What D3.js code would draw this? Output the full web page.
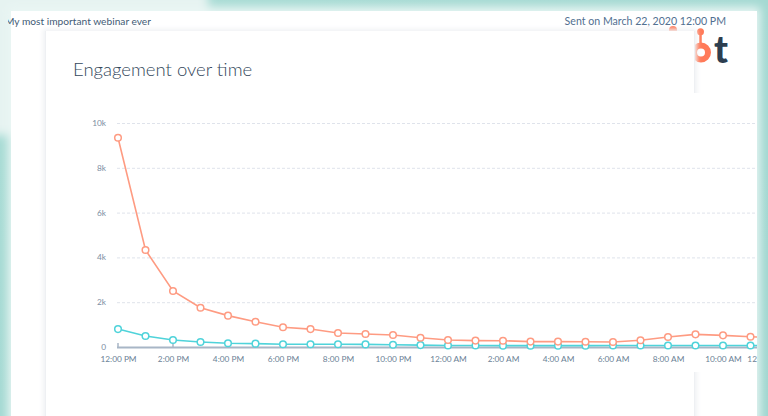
<!DOCTYPE html>
<html><head><meta charset="utf-8">
<script src="https://cdn.jsdelivr.net/npm/d3@7"></script>
<style>html,body{margin:0;padding:0;overflow:hidden;background:#fff}svg{display:block}</style>
</head><body>
<svg id="c" width="768" height="416"></svg>
<script>
// ---- data ----
const hours = ["2020-03-22T12:00","2020-03-22T13:00","2020-03-22T14:00","2020-03-22T15:00","2020-03-22T16:00","2020-03-22T17:00","2020-03-22T18:00","2020-03-22T19:00","2020-03-22T20:00","2020-03-22T21:00","2020-03-22T22:00","2020-03-22T23:00","2020-03-23T00:00","2020-03-23T01:00","2020-03-23T02:00","2020-03-23T03:00","2020-03-23T04:00","2020-03-23T05:00","2020-03-23T06:00","2020-03-23T07:00","2020-03-23T08:00","2020-03-23T09:00","2020-03-23T10:00","2020-03-23T11:00","2020-03-23T12:00"];
const seriesA = [9340,4330,2500,1750,1400,1130,880,800,625,580,535,415,312,285,280,240,240,235,225,300,445,565,520,460,400];
const seriesB = [800,490,310,225,165,150,120,120,120,115,100,85,70,65,60,60,60,60,65,70,70,70,70,70,70];
const yTicks = [0,2000,4000,6000,8000,10000];
const yTickLabels = ["0","2k","4k","6k","8k","10k"];
const title = "Engagement over time";
const header = "My most important webinar ever";
const sentText = "Sent on March 22, 2020 12:00 PM";

const svg = d3.select("#c");
const defs = svg.append("defs");
const bg = defs.append("linearGradient").attr("id","bg").attr("x1",0).attr("y1",0).attr("x2",1).attr("y2",1);
bg.append("stop").attr("offset",0).attr("stop-color","#a9dcd5");
bg.append("stop").attr("offset",1).attr("stop-color","#9fd6cf");
defs.append("filter").attr("id","blur").attr("x","-20%").attr("y","-20%").attr("width","140%").attr("height","140%")
  .append("feGaussianBlur").attr("stdDeviation",5);
defs.append("filter").attr("id","blur2").attr("x","-20%").attr("y","-20%").attr("width","140%").attr("height","140%")
  .append("feGaussianBlur").attr("stdDeviation",2);
defs.append("clipPath").attr("id","cardclip").append("rect").attr("x",11).attr("y",11).attr("width",746).attr("height",420);
defs.append("clipPath").attr("id","hdrclip").append("rect").attr("x",8).attr("y",11).attr("width",760).attr("height",30);

// background
svg.append("rect").attr("width",768).attr("height",416).attr("fill","url(#bg)");
// back card (top-left)
svg.append("rect").attr("x",-20).attr("y",-20).attr("width",228).attr("height",155).attr("fill","#e6f3f1").attr("filter","url(#blur)");
// glow around main card
svg.append("rect").attr("x",8).attr("y",7).attr("width",752).attr("height",420).attr("fill","#eaf6f4").attr("filter","url(#blur)");
// main card
svg.append("rect").attr("x",11).attr("y",11).attr("width",746).attr("height",420).attr("fill","#ffffff");

// header texts
svg.append("text").attr("x",5).attr("y",25).attr("clip-path","url(#hdrclip)")
  .attr("font-family","Lato, sans-serif").attr("font-size",10.2).attr("fill","#425b76").text(header);
svg.append("text").attr("x",726).attr("y",25).attr("text-anchor","end")
  .attr("font-family","Lato, sans-serif").attr("font-size",10.6).attr("fill","#516f90").text(sentText);

// logo (partly behind inner card)
const logo = svg.append("g");
logo.append("circle").attr("cx",673).attr("cy",30).attr("r",4).attr("fill","#ff7a59");
logo.append("line").attr("x1",700.5).attr("y1",32).attr("x2",700.5).attr("y2",44).attr("stroke","#ff7a59").attr("stroke-width",2.5);
logo.append("circle").attr("cx",700.5).attr("cy",31.7).attr("r",3.5).attr("fill","#ff7a59");
logo.append("circle").attr("cx",701).attr("cy",52.5).attr("r",7).attr("fill","none").attr("stroke","#ff7a59").attr("stroke-width",6);
logo.append("text").attr("x",714).attr("y",63.3).attr("font-family","Lato, sans-serif").attr("font-weight",900)
  .attr("font-size",37).attr("fill","#2d3e50").text("t");

// inner card
svg.append("rect").attr("x",43).attr("y",29).attr("width",654).attr("height",400).attr("fill","#f0f2f4").attr("filter","url(#blur2)");
svg.append("rect").attr("x",45).attr("y",31).attr("width",650).attr("height",400).attr("fill","#ffffff");
svg.append("line").attr("x1",45.5).attr("y1",31).attr("x2",45.5).attr("y2",416).attr("stroke","#eef0f3");
svg.append("line").attr("x1",694.5).attr("y1",31).attr("x2",694.5).attr("y2",416).attr("stroke","#eef0f3");
// chart overlay region (covers inner card right border)
svg.append("rect").attr("x",46).attr("y",93).attr("width",711).attr("height",279).attr("fill","#ffffff");

// title
svg.append("text").attr("x",73).attr("y",76).attr("font-family","Lato, sans-serif").attr("font-weight",300)
  .attr("font-size",18.5).attr("fill","#33475b").text(title);

// chart
const parse = d3.timeParse("%Y-%m-%dT%H:%M");
const dates = hours.map(parse);
const x = d3.scaleTime().domain([dates[0], dates[dates.length-1]]).range([118, 778]);
const y = d3.scaleLinear().domain([0, 10000]).range([347, 123]);

const g = svg.append("g").attr("clip-path","url(#cardclip)");

// gridlines
g.append("g").selectAll("line").data(yTicks.filter(d=>d>0)).join("line")
  .attr("x1",117).attr("x2",757).attr("y1",d=>y(d)+0.5).attr("y2",d=>y(d)+0.5)
  .attr("stroke","#dfe3eb").attr("stroke-dasharray","3,2").attr("stroke-width",1);

// y labels
g.append("g").selectAll("text").data(yTicks).join("text")
  .attr("x",106).attr("y",d=>y(d)+3).attr("text-anchor","end")
  .attr("font-family","Lato, sans-serif").attr("font-size",8.3).attr("fill","#7c8ea3")
  .text((d,i)=>yTickLabels[i]);

// x axis
const xAxis = d3.axisBottom(x).ticks(d3.timeHour.every(2)).tickFormat(d3.timeFormat("%-I:%M %p")).tickSize(0).tickPadding(9);
const ax = g.append("g").attr("transform","translate(0,347)").call(xAxis);
ax.select(".domain").remove();
ax.selectAll("text").attr("font-family","Lato, sans-serif").attr("font-size",8.3).attr("fill","#6b7f96");
// last label is justified to the plot edge
ax.selectAll(".tick").filter((d,i,n)=>i===n.length-1).select("text").attr("text-anchor","end").attr("dx",5);
g.append("line").attr("x1",117).attr("x2",800).attr("y1",347.5).attr("y2",347.5).attr("stroke","#a8b6c6").attr("stroke-width",2);
g.append("g").selectAll("line").data([dates[0], dates[2]]).join("line")
  .attr("x1",d=>x(d)).attr("x2",d=>x(d)).attr("y1",343).attr("y2",347).attr("stroke","#a8b6c6").attr("stroke-width",1.5);

const series = [{vals: seriesB, color:"#4fd3da"}, {vals: seriesA, color:"#fe9b82"}];
const line = d3.line().x((d,i)=>x(dates[i])).y(d=>y(d));
series.forEach(s=>{
  g.append("path").datum(s.vals).attr("d",line).attr("fill","none").attr("stroke",s.color).attr("stroke-width",1.6);
  g.append("g").selectAll("circle").data(s.vals).join("circle")
    .attr("cx",(d,i)=>x(dates[i])).attr("cy",d=>y(d)).attr("r",3.3)
    .attr("fill","#fff").attr("stroke",s.color).attr("stroke-width",1.5);
});
</script>
</body></html>
